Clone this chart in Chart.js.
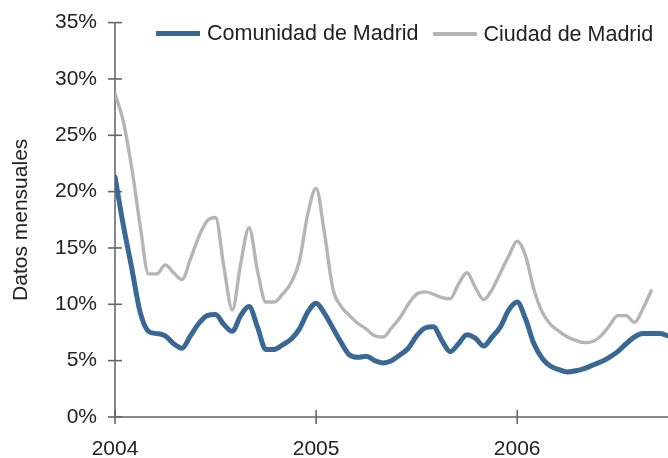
<!DOCTYPE html>
<html>
<head>
<meta charset="utf-8">
<script src="https://cdn.jsdelivr.net/npm/chart.js@4.4.1/dist/chart.umd.min.js"></script>
<style>
  html, body { margin: 0; padding: 0; background: #fff; }
  #wrap { position: relative; width: 668px; height: 458px; }
  #legend { position: absolute; top: 17px; left: 156px; font-family: "Liberation Sans", Arial, sans-serif; font-size: 21.5px; color: #222; white-space: nowrap; }
  .item { display: inline-flex; align-items: center; }
  .sw { display: inline-block; width: 44px; margin-right: 7px; }
</style>
</head>
<body>
<div id="wrap">
  <canvas id="c" width="668" height="458"></canvas>
  <div id="legend"></div>
</div>
<script>
// Semi-monthly observations, Jan 2004 onwards (index 0 = start of 2004)
const yearLabels = ['2004', '2005', '2006'];
const seriesNames = ['Comunidad de Madrid', 'Ciudad de Madrid'];
const comunidad = [
  21.3, 17.0, 13.2, 9.3, 7.6, 7.4, 7.2, 6.5, 6.1, 7.2, 8.3, 9.0,
  9.1, 8.2, 7.6, 9.0, 9.8, 8.0, 6.0, 6.0, 6.4, 6.9, 7.8, 9.3,
  10.1, 9.2, 7.9, 6.6, 5.5, 5.3, 5.4, 5.0, 4.8, 5.0, 5.5, 6.1,
  7.2, 7.9, 8.0, 6.8, 5.8, 6.5, 7.3, 7.0, 6.3, 7.1, 8.0, 9.5,
  10.2, 8.7, 6.5, 5.2, 4.5, 4.2, 4.0, 4.1, 4.3, 4.6, 4.9, 5.3,
  5.8, 6.5, 7.1, 7.4, 7.4, 7.4, 7.2
];
const ciudad = [
  28.7, 26.2, 22.1, 17.0, 12.7, 12.7, 13.5, 12.8, 12.2, 14.0, 16.0, 17.4,
  17.7, 13.3, 9.5, 13.6, 16.8, 13.0, 10.2, 10.2, 10.9, 11.9, 13.8, 18.0,
  20.3, 16.3, 11.4, 9.8, 9.0, 8.3, 7.8, 7.2, 7.1, 7.9, 8.8, 10.0,
  10.9, 11.1, 10.9, 10.6, 10.5, 11.8, 12.8, 11.5, 10.4, 11.3, 12.8, 14.3,
  15.6, 14.3, 11.3, 9.3, 8.2, 7.6, 7.1, 6.8, 6.6, 6.7, 7.2, 8.1,
  9.0, 9.0, 8.4, 9.6, 11.2
];
const yTicks = [0, 5, 10, 15, 20, 25, 30, 35];
const colors = ['#3a6895', '#b5b5b5'];
const widths = [5, 3.4];

const FONT = '"Liberation Sans", Arial, sans-serif';

const crossTicks = {
  id: 'crossTicks',
  beforeDatasetsDraw(chart) {
    const ctx = chart.ctx;
    const xs = chart.scales.x, ys = chart.scales.y;
    ctx.save();
    ctx.strokeStyle = '#666';
    ctx.lineWidth = 1.6;
    ys.ticks.forEach((t, i) => {
      const y = ys.getPixelForTick(i);
      ctx.beginPath(); ctx.moveTo(xs.left - 7, y); ctx.lineTo(xs.left + 7, y); ctx.stroke();
    });
    xs.ticks.forEach((t, i) => {
      const x = xs.getPixelForTick(i);
      ctx.beginPath(); ctx.moveTo(x, ys.bottom - 7); ctx.lineTo(x, ys.bottom + 7); ctx.stroke();
    });
    ctx.restore();
  }
};

const datasets = [comunidad, ciudad].map((arr, k) => ({
  label: seriesNames[k],
  data: arr.map((v, i) => ({ x: i, y: v })),
  borderColor: colors[k],
  borderWidth: widths[k],
  pointRadius: 0,
  cubicInterpolationMode: 'monotone',
  borderJoinStyle: 'round',
  borderCapStyle: 'round',
  fill: false,
  order: k === 0 ? 0 : 1
}));

new Chart(document.getElementById('c'), {
  type: 'line',
  data: { datasets },
  plugins: [crossTicks],
  options: {
    responsive: false,
    animation: false,
    layout: { padding: { top: 13, right: 0, left: 0, bottom: 0 } },
    plugins: { legend: { display: false }, tooltip: { enabled: false } },
    scales: {
      x: {
        type: 'linear', min: 0, max: 66,
        afterFit: s => { s.height = 41; },
        afterBuildTicks: s => { s.ticks = yearLabels.map((l, i) => ({ value: i * 24 })); },
        ticks: {
          autoSkip: false, maxRotation: 0, padding: 12,
          color: '#222', font: { family: FONT, size: 21 },
          callback: v => yearLabels[v / 24]
        },
        grid: { display: false },
        border: { display: true, color: '#888', width: 2 }
      },
      y: {
        min: 0, max: 35,
        afterFit: s => { s.width = 115; },
        afterBuildTicks: s => { s.ticks = yTicks.map(v => ({ value: v })); },
        ticks: {
          padding: 10, color: '#222', font: { family: FONT, size: 21 },
          callback: v => v + '%'
        },
        title: { display: true, text: 'Datos mensuales', color: '#222', font: { family: FONT, size: 21 }, padding: { top: 9, bottom: 0 } },
        grid: { display: false },
        border: { display: true, color: '#888', width: 2 }
      }
    }
  }
});

const lg = document.getElementById('legend');
seriesNames.forEach((n, k) => {
  const it = document.createElement('span');
  it.className = 'item';
  if (k > 0) it.style.marginLeft = '14px';
  const sw = document.createElement('span');
  sw.className = 'sw';
  sw.style.height = (k === 0 ? 5 : 4) + 'px';
  sw.style.background = colors[k];
  const tx = document.createElement('span');
  tx.textContent = n;
  it.appendChild(sw); it.appendChild(tx);
  lg.appendChild(it);
});
</script>
</body>
</html>
